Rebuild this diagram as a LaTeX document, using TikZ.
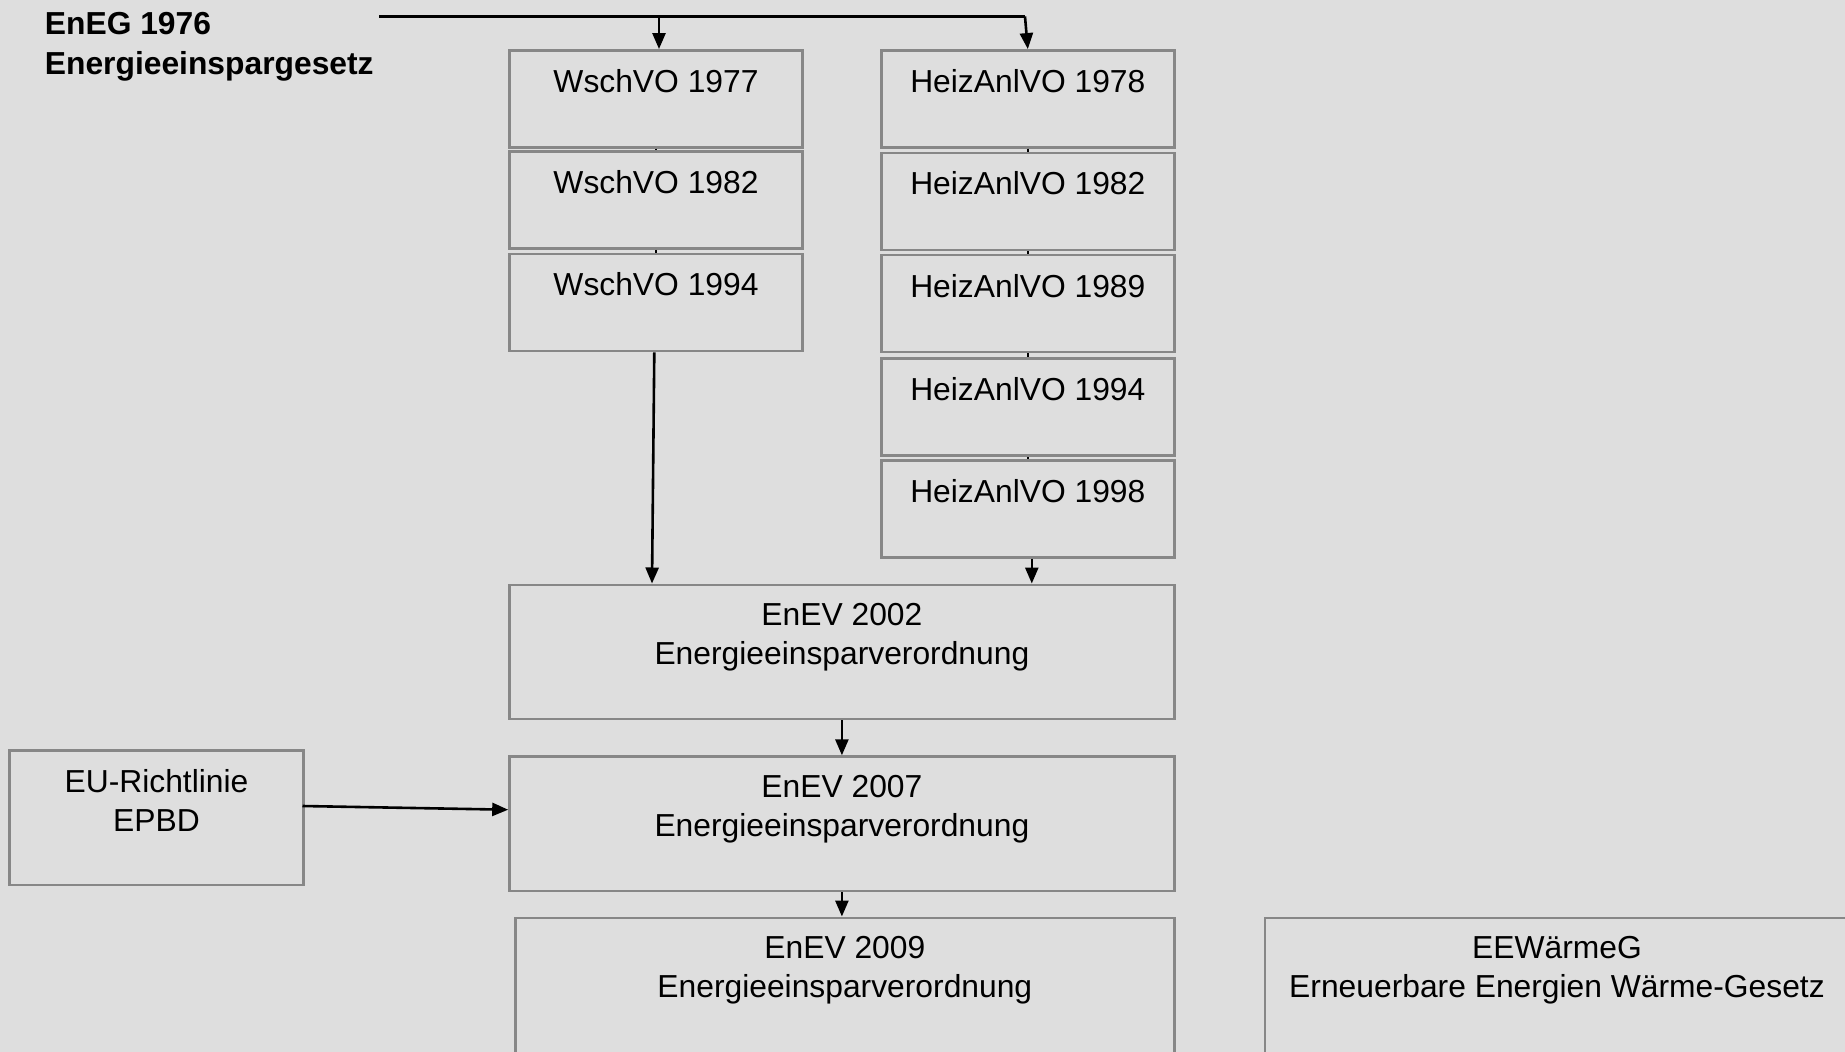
\documentclass[tikz,border=0pt]{standalone}
\usepackage{fontspec}
\setmainfont{Liberation Sans}
\usetikzlibrary{arrows.meta,calc}
\definecolor{bg}{RGB}{222,222,222}
\definecolor{boxgray}{RGB}{135,135,135}
\begin{document}
\begin{tikzpicture}[x=1pt,y=-1pt,
  box/.style={draw=boxgray, fill=bg, line width=2.6pt, inner sep=0pt, rectangle},
  wbox/.style={box, minimum width=293pt, minimum height=97pt},
  bigbox/.style={box, minimum height=134.2pt},
  txt/.style={anchor=north, inner sep=0pt, align=center, font=\fontsize{31.8}{39}\selectfont},
  tick/.style={line width=2pt},
  ln/.style={line width=2.6pt},
  arr/.style={line width=2.6pt, -{Triangle[length=16pt,width=13pt]}}]
\path[use as bounding box] (0,0) rectangle (1845,1052);
\clip (0,0) rectangle (1845,1052);
\fill[bg] (0,0) rectangle (1845,1052);

% title
\node[anchor=north west, inner sep=0pt, align=left, font=\fontsize{31.8}{40}\selectfont\bfseries] (eneg) at (44.7,12.5) {EnEG 1976\\Energieeinspargesetz};

% WschVO column
\node[wbox] (w77) at (656,98.85) {};
\node[wbox] (w82) at (656,200) {};
\node[wbox] (w94) at (656,302.5) {};
% HeizAnlVO column
\node[wbox] (h78) at (1027.8,98.85) {};
\node[wbox] (h82) at (1027.8,201.3) {};
\node[wbox] (h89) at (1027.8,303.6) {};
\node[wbox] (h94) at (1027.8,407.2) {};
\node[wbox] (h98) at (1027.8,509) {};
% EnEV
\node[bigbox, minimum width=664.8pt] (e02) at (841.9,651.9) {};
\node[bigbox, minimum width=664.8pt] (e07) at (841.9,823.7) {};
\node[box, minimum width=658.9pt, minimum height=136pt] (e09) at (844.85,985.8) {};
\node[bigbox, minimum width=294.2pt] (eu) at (156.5,817.8) {};
\node[box, minimum width=584pt, minimum height=136pt] (eew) at (1557,985.8) {};

% texts
\node[txt] (w77t) at ([yshift=-20pt]w77.north) {WschVO 1977};
\node[txt] (w82t) at ([yshift=-20pt]w82.north) {WschVO 1982};
\node[txt] (w94t) at ([yshift=-20pt]w94.north) {WschVO 1994};
\node[txt] (h78t) at ([yshift=-20pt]h78.north) {HeizAnlVO 1978};
\node[txt] (h82t) at ([yshift=-20pt]h82.north) {HeizAnlVO 1982};
\node[txt] (h89t) at ([yshift=-20pt]h89.north) {HeizAnlVO 1989};
\node[txt] (h94t) at ([yshift=-20pt]h94.north) {HeizAnlVO 1994};
\node[txt] (h98t) at ([yshift=-20pt]h98.north) {HeizAnlVO 1998};
\node[txt] (e02t) at ([yshift=-20pt]e02.north) {EnEV 2002\\Energieeinsparverordnung};
\node[txt] (e07t) at ([yshift=-20pt]e07.north) {EnEV 2007\\Energieeinsparverordnung};
\node[txt] (e09t) at ([yshift=-20pt]e09.north) {EnEV 2009\\Energieeinsparverordnung};
\node[txt] (eut) at ([yshift=-20pt]eu.north) {EU-Richtlinie\\EPBD};
\node[txt] (eewt) at ([yshift=-20pt]eew.north) {EEWärmeG\\Erneuerbare Energien Wärme-Gesetz};

% connectors
\coordinate (lstart) at (379,16.5);
\coordinate (jw) at (659,16.5);
\coordinate (jh) at (1025,16.5);
\draw[ln] (lstart) -- (jh);
\draw[arr] (jw) -- (jw |- w77.north);
\draw[arr] (jh) -- (h78.north);

\draw[tick] (w77) -- (w82);
\draw[tick] (w82) -- (w94);
\draw[tick] (h78) -- (h82);
\draw[tick] (h82) -- (h89);
\draw[tick] (h89) -- (h94);
\draw[tick] (h94) -- (h98);

\draw[arr] ([xshift=-1.7pt]w94.south) -- ([xshift=-4pt]w94.south |- e02.north);
\draw[arr] ([xshift=4pt]h98.south) -- ([xshift=4pt]h98.south |- e02.north);
\draw[arr] (e02) -- (e07);
\draw[arr] (e07.south) -- (e07.south |- e09.north);
\draw[arr] ([xshift=-2.4pt,yshift=11.8pt]eu.east) -- ([yshift=14pt]e07.west);
\end{tikzpicture}
\end{document}
